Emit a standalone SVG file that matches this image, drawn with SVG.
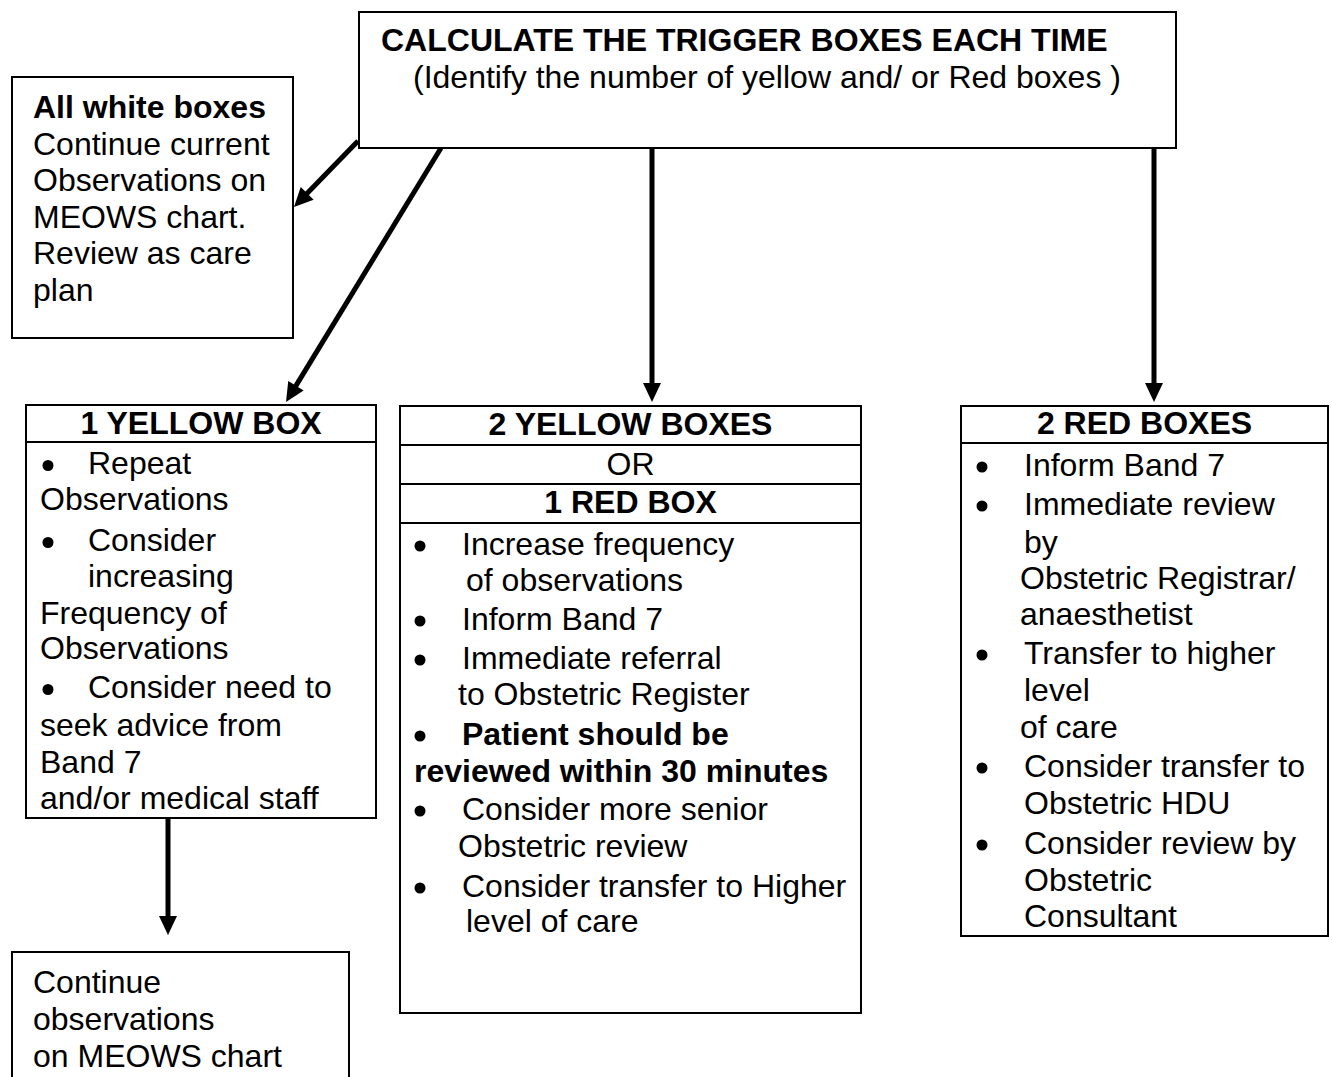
<svg xmlns="http://www.w3.org/2000/svg" width="1332" height="1077" viewBox="0 0 1332 1077">
<style>
  text { font-family: "Liberation Sans", Arial, sans-serif; font-size: 32px; fill: #000; }
  .b { font-weight: bold; }
  .c { text-anchor: middle; }
  .box { fill: #fff; stroke: #000; stroke-width: 2; }
  .div { stroke: #000; stroke-width: 2; }
  .arr { stroke: #000; stroke-width: 5; fill: none; marker-end: url(#ah); }
  .dot { fill: #000; }
</style>
<defs>
  <marker id="ah" markerUnits="userSpaceOnUse" markerWidth="20" markerHeight="18" refX="1" refY="9" orient="auto" overflow="visible">
    <path d="M0,0 L19,9 L0,18 Z" fill="#000"/>
  </marker>
</defs>
<rect width="1332" height="1077" fill="#fff"/>

<g id="connectors">
  <line class="arr" x1="358" y1="141" x2="306.5" y2="194.1"/>
  <line class="arr" x1="441" y1="148" x2="295.4" y2="386.6"/>
  <line class="arr" x1="652" y1="148" x2="652" y2="384"/>
  <line class="arr" x1="1154" y1="148" x2="1154" y2="384"/>
  <line class="arr" x1="168" y1="818" x2="168" y2="917"/>
</g>

<g id="node-top">
  <rect class="box" x="359" y="12" width="817" height="136"/>
  <text class="b" x="381" y="51">CALCULATE THE TRIGGER BOXES EACH TIME</text>
  <text x="413" y="88">(Identify the number of yellow and/ or Red boxes )</text>
</g>

<g id="node-white">
  <rect class="box" x="12" y="77" width="281" height="261"/>
  <text class="b" x="33" y="118">All white boxes</text>
  <text x="33" y="155">Continue current</text>
  <text x="33" y="191">Observations on</text>
  <text x="33" y="228">MEOWS chart.</text>
  <text x="33" y="264">Review as care</text>
  <text x="33" y="301">plan</text>
</g>

<g id="node-1yellow">
  <rect class="box" x="26" y="405" width="350" height="413"/>
  <line class="div" x1="26" y1="442" x2="376" y2="442"/>
  <text class="b c" x="201" y="434">1 YELLOW BOX</text>
  <circle class="dot" cx="48" cy="465.5" r="5.5"/>
  <text x="88" y="474">Repeat</text>
  <text x="40" y="510">Observations</text>
  <circle class="dot" cx="48" cy="542.5" r="5.5"/>
  <text x="88" y="551">Consider</text>
  <text x="88" y="587">increasing</text>
  <text x="40" y="624">Frequency of</text>
  <text x="40" y="659">Observations</text>
  <circle class="dot" cx="48" cy="689.5" r="5.5"/>
  <text x="88" y="698">Consider need to</text>
  <text x="40" y="736">seek advice from</text>
  <text x="40" y="773">Band 7</text>
  <text x="40" y="809">and/or medical staff</text>
</g>

<g id="node-2yellow">
  <rect class="box" x="400" y="406" width="461" height="607"/>
  <line class="div" x1="400" y1="445" x2="861" y2="445"/>
  <line class="div" x1="400" y1="484" x2="861" y2="484"/>
  <line class="div" x1="400" y1="523" x2="861" y2="523"/>
  <text class="b c" x="630.5" y="435">2 YELLOW BOXES</text>
  <text class="c" x="630.5" y="475">OR</text>
  <text class="b c" x="630.5" y="513">1 RED BOX</text>
  <circle class="dot" cx="420" cy="546" r="5.5"/>
  <text x="462" y="555">Increase frequency</text>
  <text x="466" y="591">of observations</text>
  <circle class="dot" cx="420" cy="621" r="5.5"/>
  <text x="462" y="630">Inform Band 7</text>
  <circle class="dot" cx="420" cy="660" r="5.5"/>
  <text x="462" y="669">Immediate referral</text>
  <text x="458" y="705">to Obstetric Register</text>
  <circle class="dot" cx="420" cy="736" r="5.5"/>
  <text class="b" x="462" y="745">Patient should be</text>
  <text class="b" x="414" y="782">reviewed within 30 minutes</text>
  <circle class="dot" cx="420" cy="811" r="5.5"/>
  <text x="462" y="820">Consider more senior</text>
  <text x="458" y="857">Obstetric review</text>
  <circle class="dot" cx="420" cy="888" r="5.5"/>
  <text x="462" y="897">Consider transfer to Higher</text>
  <text x="466" y="932">level of care</text>
</g>

<g id="node-2red">
  <rect class="box" x="961" y="406" width="367" height="530"/>
  <line class="div" x1="961" y1="443" x2="1328" y2="443"/>
  <text class="b c" x="1144.5" y="434">2 RED BOXES</text>
  <circle class="dot" cx="982" cy="467" r="5.5"/>
  <text x="1024" y="476">Inform Band 7</text>
  <circle class="dot" cx="982" cy="506" r="5.5"/>
  <text x="1024" y="515">Immediate review</text>
  <text x="1024" y="553">by</text>
  <text x="1020" y="589">Obstetric Registrar/</text>
  <text x="1020" y="625">anaesthetist</text>
  <circle class="dot" cx="982" cy="655" r="5.5"/>
  <text x="1024" y="664">Transfer to higher</text>
  <text x="1024" y="701">level</text>
  <text x="1020" y="738">of care</text>
  <circle class="dot" cx="982" cy="768" r="5.5"/>
  <text x="1024" y="777">Consider transfer to</text>
  <text x="1024" y="814">Obstetric HDU</text>
  <circle class="dot" cx="982" cy="845" r="5.5"/>
  <text x="1024" y="854">Consider review by</text>
  <text x="1024" y="891">Obstetric</text>
  <text x="1024" y="927">Consultant</text>
</g>

<g id="node-continue">
  <rect class="box" x="12" y="952" width="337" height="140"/>
  <text x="33" y="993">Continue</text>
  <text x="33" y="1030">observations</text>
  <text x="33" y="1067">on MEOWS chart</text>
</g>
</svg>
